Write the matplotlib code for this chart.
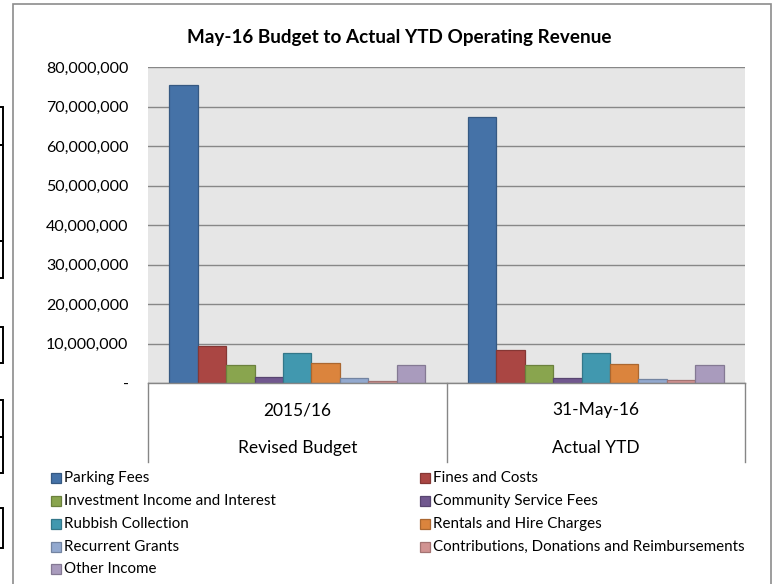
import matplotlib
matplotlib.use("Agg")
import matplotlib.pyplot as plt
import matplotlib.colors as mcolors
from matplotlib.patches import Rectangle
import numpy as np

plt.rcParams['font.family'] = ['Lato', 'DejaVu Sans']

title = "May-16 Budget to Actual YTD Operating Revenue"
cat_top = ["2015/16", "31-May-16"]
cat_bottom = ["Revised Budget", "Actual YTD"]
series = ["Parking Fees", "Fines and Costs", "Investment Income and Interest",
          "Community Service Fees", "Rubbish Collection", "Rentals and Hire Charges",
          "Recurrent Grants", "Contributions, Donations and Reimbursements", "Other Income"]
budget = [75.4e6, 9.4e6, 4.6e6, 1.6e6, 7.5e6, 5.1e6, 1.35e6, 0.6e6, 4.5e6]
actual = [67.3e6, 8.3e6, 4.6e6, 1.35e6, 7.5e6, 4.7e6, 1.1e6, 0.7e6, 4.6e6]
colors = ["#4572A7", "#AA4643", "#89A54E", "#71588F", "#4198AF", "#DB843D",
          "#93A9CF", "#D19392", "#A99BBD"]
yticks = [0, 10e6, 20e6, 30e6, 40e6, 50e6, 60e6, 70e6, 80e6]
ytick_labels = ["-", "10,000,000", "20,000,000", "30,000,000", "40,000,000",
                "50,000,000", "60,000,000", "70,000,000", "80,000,000"]

W, H = 776, 584
fig = plt.figure(figsize=(W / 100, H / 100), dpi=100)
fig.patch.set_facecolor("white")

def fx(px):
    return px / W

def fy(py):
    return 1 - py / H

def darker(c, f=0.78):
    r, g, b = mcolors.to_rgb(c)
    return (r * f, g * f, b * f)

# outer chart border
fig.add_artist(Rectangle((fx(13), fy(590)), fx(771) - fx(13), fy(4) - fy(590),
                         transform=fig.transFigure, fill=False,
                         edgecolor="#8C8C8C", linewidth=1.2))

# stray spreadsheet cell borders at the far left
for (y0, y1) in [(107, 145), (145, 241), (241, 278), (327, 363), (400, 437), (437, 473), (508, 548)]:
    fig.add_artist(Rectangle((fx(-2), fy(y1)), fx(5), fy(y0) - fy(y1),
                             transform=fig.transFigure, fill=False,
                             edgecolor="black", linewidth=1.4))

L, R, T, B = 148, 745, 67, 383
ax = fig.add_axes([fx(L), fy(B), fx(R) - fx(L), fy(T) - fy(B)])
ax.set_facecolor("#E6E6E6")
for s in ax.spines.values():
    s.set_visible(False)

x = np.arange(len(cat_top))
n = len(series)
width = 1.0 / (n + 1.5)
for i, name in enumerate(series):
    vals = [budget[i], actual[i]]
    offs = (i - (n - 1) / 2) * width
    ax.bar(x + offs, vals, width=width, color=colors[i],
           edgecolor=darker(colors[i]), linewidth=0.9, zorder=3, label=name)

ax.set_xlim(-0.5, 1.5)
ax.set_ylim(0, 80e6)
ax.set_yticks(yticks)
ax.set_yticklabels(ytick_labels, fontsize=11.5)
ax.tick_params(axis="y", length=0, pad=14)
ax.set_xticks([])
ax.yaxis.grid(True, color="#878787", linewidth=1.0, zorder=1)
ax.set_axisbelow(True)

# category axis box lines
gray = "#868686"
depth = (462 - 383) / (B - T)
ax.plot([0, 1], [0, 0], transform=ax.transAxes, color=gray, lw=1.0, clip_on=False, zorder=4)
for xv in [0, 0.5, 1.0]:
    ax.plot([xv, xv], [0, -depth], transform=ax.transAxes, color=gray, lw=1.0, clip_on=False)

for i in range(len(cat_top)):
    cx = L + (R - L) * (i + 0.5) / len(cat_top)
    fig.text(fx(cx), fy(410), cat_top[i], ha="center", va="center", fontsize=12.5)
    fig.text(fx(cx), fy(448), cat_bottom[i], ha="center", va="center", fontsize=12.5)

fig.text(fx(399), fy(38), title, ha="center", va="center", fontsize=13.6, fontweight="bold")

# legend
col_x = [51, 420]
row_y = [478, 501, 524, 547, 569]
for i, name in enumerate(series):
    c, r = i % 2, i // 2
    sx, sy = col_x[c], row_y[r]
    fig.add_artist(Rectangle((fx(sx), fy(sy + 5)), fx(10), fy(sy - 5) - fy(sy + 5),
                             transform=fig.transFigure, facecolor=colors[i],
                             edgecolor=darker(colors[i]), linewidth=0.9))
    fig.text(fx(sx + 13), fy(sy), name, ha="left", va="center", fontsize=10.9)

fig.savefig("out.png", dpi=100)
